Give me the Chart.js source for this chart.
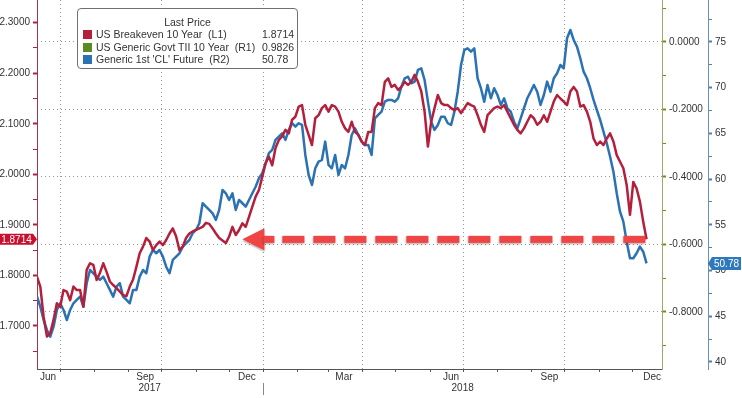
<!DOCTYPE html>
<html>
<head>
<meta charset="utf-8">
<script src="https://cdn.jsdelivr.net/npm/chart.js@4.4.0/dist/chart.umd.min.js"></script>
<style>
html,body{margin:0;padding:0;background:#fff;overflow:hidden}
#wrap{position:relative;width:742px;height:398px}
#c{position:absolute;left:0;top:0}
#legend{position:absolute;left:77px;top:8px;width:221px;height:61px;border:1px solid #707070;border-radius:4px;background:#fff;box-sizing:border-box;font-family:'Liberation Sans',Arial,sans-serif;font-size:10.5px;color:#333}
#legend .title{position:absolute;left:0;width:100%;top:7px;text-align:center;line-height:12px}
#legend .row{position:absolute;left:0;width:100%;height:12px;line-height:12px;white-space:pre}
#legend .sw{position:absolute;left:5px;top:2px;width:9px;height:9px}
#legend .nm{position:absolute;left:18px;top:0}
#legend .vl{position:absolute;left:184px;top:0}
</style>
</head>
<body>
<div id="wrap">
<canvas id="c" width="742" height="398"></canvas>
<div id="legend"></div>
</div>
<script>
// ---------- data ----------
const legendTitle = 'Last Price';
const seriesNames = ['US Breakeven 10 Year  (L1)', 'US Generic Govt TII 10 Year  (R1)', "Generic 1st 'CL' Future  (R2)"];
const lastValues = ['1.8714', '0.9826', '50.78'];
const seriesColors = ['#b41f3c', '#5b8c22', '#2b72b2'];

const startDate = '2017-06-10';
const stepDays = 3;

const breakeven = [
 1.797,1.778,1.718,1.679,1.686,1.712,1.745,1.738,1.771,1.768,
 1.751,1.778,1.771,1.771,1.738,1.811,1.824,1.821,1.791,1.805,
 1.824,1.807,1.788,1.781,1.775,1.768,1.761,1.759,1.778,1.792,
 1.817,1.844,1.857,1.874,1.867,1.850,1.860,1.867,1.860,1.870,
 1.883,1.893,1.877,1.850,1.857,1.874,1.883,1.887,1.890,1.893,
 1.896,1.904,1.902,1.893,1.883,1.874,1.869,1.864,1.877,1.896,
 1.880,1.890,1.903,1.896,1.916,1.936,1.956,1.969,1.995,2.022,
 2.035,2.018,2.052,2.068,2.075,2.088,2.081,2.108,2.114,2.134,
 2.137,2.098,2.078,2.058,2.111,2.117,2.131,2.137,2.124,2.137,
 2.134,2.124,2.104,2.091,2.084,2.104,2.084,2.078,2.065,2.058,
 2.084,2.084,2.131,2.141,2.137,2.183,2.190,2.173,2.177,2.167,
 2.173,2.183,2.177,2.183,2.197,2.183,2.164,2.124,2.055,2.104,
 2.131,2.157,2.141,2.137,2.137,2.131,2.127,2.131,2.121,2.131,
 2.141,2.137,2.134,2.117,2.098,2.084,2.117,2.124,2.131,2.134,
 2.131,2.137,2.124,2.111,2.098,2.088,2.081,2.091,2.104,2.117,
 2.111,2.098,2.104,2.117,2.104,2.124,2.144,2.157,2.150,2.144,
 2.137,2.164,2.173,2.164,2.134,2.137,2.124,2.104,2.071,2.058,
 2.065,2.058,2.071,2.081,2.065,2.038,2.025,2.012,1.979,1.920,
 1.985,1.972,1.946,1.906,1.8714
];

const crude = [
 47.14,46.05,44.59,43.50,42.77,43.86,45.69,46.42,45.69,44.59,
 45.69,46.42,46.78,47.14,46.05,48.61,50.06,49.70,49.33,48.97,
 49.33,48.61,47.88,47.14,48.24,48.61,47.14,46.78,46.42,47.88,
 47.88,49.33,50.06,49.70,51.52,52.25,51.89,52.25,51.52,50.42,
 49.70,51.16,51.52,51.89,52.61,52.98,53.34,54.08,54.44,55.17,
 57.36,56.99,56.63,56.26,55.53,56.63,58.81,58.45,57.72,58.45,
 56.63,57.72,57.36,56.99,57.72,58.45,59.17,60.09,60.64,61.73,
 62.83,63.19,64.28,64.64,65.01,64.28,65.38,66.11,65.74,66.11,
 65.92,62.64,60.45,59.36,61.18,61.91,62.09,64.10,61.55,61.18,
 62.64,60.45,61.55,61.18,62.64,64.83,65.56,64.83,64.10,63.73,
 63.73,62.64,66.65,67.02,67.38,68.47,68.66,68.66,68.47,68.84,
 70.11,71.03,71.20,70.48,70.66,71.94,72.12,70.84,68.47,66.28,
 65.38,65.92,66.83,66.83,66.11,65.92,67.38,69.56,72.48,74.13,
 74.31,73.94,74.31,71.03,69.94,68.47,70.30,68.84,69.94,69.20,
 68.11,68.84,67.75,67.38,66.28,65.56,66.65,67.75,68.84,69.56,
 70.30,69.56,68.11,69.20,70.66,69.56,71.03,71.58,72.48,72.12,
 75.40,76.31,75.22,74.49,73.22,71.75,71.03,69.94,68.66,67.56,
 66.47,65.19,63.92,62.45,60.81,58.45,56.44,55.35,53.16,51.34,
 51.34,51.89,52.61,52.06,50.78
];

// axes
const axisStart = '2017-06-10';
const axisEnd = '2018-12-28';
const monthLabels = ['Jun', 'Sep', 'Dec', 'Mar', 'Jun', 'Sep', 'Dec'];
const monthLabelDates = ['2017-06-20', '2017-09-16', '2017-12-17', '2018-03-15', '2018-06-20', '2018-09-17', '2018-12-19'];
const yearLabels = ['2017', '2018'];
const leftMajor = [1.7, 1.8, 1.9, 2.0, 2.1, 2.2, 2.3];
const leftMinor = [1.65, 1.75, 1.85, 1.95, 2.05, 2.15, 2.25];
const r1Major = [-0.8, -0.6, -0.4, -0.2, 0.0];
const r1Minor = [-0.9, -0.7, -0.5, -0.3, -0.1, 0.1];
const r2Major = [40, 45, 50, 55, 60, 65, 70, 75];
const r2Minor = [42.5, 47.5, 52.5, 57.5, 62.5, 67.5, 72.5, 77.5];
const leftRange = [1.6149, 2.3449];
const r1Range = [-0.9689, 0.1244];
const r2Range = [39.23, 79.59];
const arrowTipDate = '2017-12-13';

// ---------- helpers ----------
const day = s => Date.parse(s + 'T00:00:00Z') / 86400000;
const x0 = day(startDate);
const bePts = breakeven.map((v, i) => ({x: x0 + i * stepDays, y: v}));
const clPts = crude.map((v, i) => ({x: x0 + i * stepDays, y: v}));
const lastDay = x0 + (breakeven.length - 1) * stepDays;

// legend (HTML text)
(function(){
  const lg = document.getElementById('legend');
  let h = '<div class="title">' + legendTitle + '</div>';
  seriesNames.forEach((n, i) => {
    h += '<div class="row" style="top:' + (19 + i * 12.6) + 'px"><span class="sw" style="background:' + seriesColors[i] + '"></span><span class="nm">' + n + '</span><span class="vl">' + lastValues[i] + '</span></div>';
  });
  lg.innerHTML = h;
})();

// x ticks: month starts (tick marks), label ticks, year ticks
const xTicks = [];
{
  let d = new Date(Date.UTC(2017, 6, 1));
  const end = day(axisEnd);
  while (d.getTime() / 86400000 <= end) {
    xTicks.push({value: d.getTime() / 86400000, kind: d.getUTCMonth() % 3 === 0 ? 'q' : 'm', label: ''});
    d = new Date(Date.UTC(d.getUTCFullYear(), d.getUTCMonth() + 1, 1));
  }
  monthLabels.forEach((m, i) => xTicks.push({value: day(monthLabelDates[i]), kind: 'l', label: m}));
  const aS = day(axisStart), aE = day(axisEnd);
  yearLabels.forEach(y => {
    const s = Math.max(aS, day(y + '-01-01')), e = Math.min(aE, day(y + '-12-31'));
    xTicks.push({value: (s + e) / 2, kind: 'y', label: ['', y]});
  });
  xTicks.sort((a, b) => a.value - b.value);
}

const mkTicks = (maj, min) => maj.map(v => ({v, major: true})).concat(min.map(v => ({v, major: false}))).sort((a, b) => a.v - b.v);
const leftT = mkTicks(leftMajor, leftMinor);
const r1T = mkTicks(r1Major, r1Minor);
const r2T = mkTicks(r2Major, r2Minor);

const FONT = {family: "'Liberation Sans', Arial, sans-serif", size: 10, lineHeight: 1.1};
Chart.defaults.font.family = FONT.family;
Chart.defaults.font.size = 10;
Chart.defaults.color = '#333';

function yAxis(list, range, pos, weight, width, lineCol, tickCol, fmt, grid) {
  return {
    type: 'linear', position: pos, weight: weight, display: true, bounds: 'data',
    min: range[0], max: range[1],
    afterBuildTicks: s => { s.ticks = list.map(t => ({value: t.v})); },
    afterFit: s => { s.width = width; s.paddingTop = 0; s.paddingBottom = 0; },
    border: {display: true, color: lineCol, width: 1, dash: [1, 3]},
    grid: {
      drawOnChartArea: !!grid, drawTicks: true, tickLength: 4,
      color: c => (grid && list[c.index] && list[c.index].major) ? '#959595' : 'rgba(0,0,0,0)',
      tickColor: tickCol,
      tickWidth: c => (list[c.index] && list[c.index].major) ? 2 : 1,
      lineWidth: 1
    },
    ticks: {
      autoSkip: false, padding: 3, color: '#333', font: FONT,
      callback: (v, i) => list[i] && list[i].major ? fmt(list[i].v) : ''
    }
  };
}

const overlay = {
  id: 'overlay',
  afterDatasetsDraw(chart) {
    const ctx = chart.ctx, xs = chart.scales.x, yl = chart.scales.yL;
    const y = yl.getPixelForValue(breakeven[breakeven.length - 1]);
    const xTip = xs.getPixelForValue(day(arrowTipDate));
    const xEnd = xs.getPixelForValue(lastDay) + 2;
    ctx.save();
    ctx.fillStyle = '#ef4545';
    ctx.shadowColor = 'rgba(60,0,0,0.35)';
    ctx.shadowBlur = 2; ctx.shadowOffsetY = 1.5;
    ctx.beginPath();
    ctx.moveTo(xTip, y); ctx.lineTo(xTip + 22, y - 11); ctx.lineTo(xTip + 22, y + 11); ctx.closePath(); ctx.fill();
    ctx.fillRect(xTip + 21, y - 3.5, 11, 7);
    let xx = xTip + 40;
    while (xx < xEnd) { ctx.fillRect(xx, y - 3.5, Math.min(22, xEnd - xx), 7); xx += 31; }
    ctx.restore();
  },
  afterDraw(chart) {
    const ctx = chart.ctx, xs = chart.scales.x, yl = chart.scales.yL, y2 = chart.scales.yR2;
    ctx.save();
    // year separator
    const xs0 = Math.round(xs.getPixelForValue(day(yearLabels[1] + '-01-01'))) + 0.5;
    ctx.strokeStyle = '#888'; ctx.lineWidth = 1;
    ctx.beginPath(); ctx.moveTo(xs0, xs.top + 14); ctx.lineTo(xs0, xs.top + 26); ctx.stroke();
    ctx.font = "10px 'Liberation Sans', Arial, sans-serif";
    ctx.textBaseline = 'middle'; ctx.textAlign = 'center';
    // left badge
    let y = yl.getPixelForValue(breakeven[breakeven.length - 1]);
    ctx.fillStyle = '#c8102e';
    ctx.beginPath();
    ctx.moveTo(yl.left, y - 5.5); ctx.lineTo(yl.right - 4, y - 5.5); ctx.lineTo(yl.right, y);
    ctx.lineTo(yl.right - 4, y + 5.5); ctx.lineTo(yl.left, y + 5.5); ctx.closePath(); ctx.fill();
    ctx.fillStyle = '#fff';
    ctx.fillText(lastValues[0], (yl.left + yl.right - 4) / 2, y + 0.5);
    // right badge
    y = y2.getPixelForValue(crude[crude.length - 1]);
    ctx.fillStyle = '#2f78bb';
    ctx.beginPath();
    ctx.moveTo(y2.left, y); ctx.lineTo(y2.left + 4, y - 6.5); ctx.lineTo(y2.right - 1, y - 6.5);
    ctx.lineTo(y2.right - 1, y + 6.5); ctx.lineTo(y2.left + 4, y + 6.5); ctx.closePath(); ctx.fill();
    ctx.fillStyle = '#fff';
    ctx.fillText(lastValues[2], (y2.left + 4 + y2.right - 1) / 2, y + 0.5);
    ctx.restore();
  }
};

new Chart(document.getElementById('c'), {
  type: 'line',
  data: {
    datasets: [
      {label: seriesNames[0], data: bePts, xAxisID: 'x', yAxisID: 'yL', borderColor: seriesColors[0], borderWidth: 2.5, pointRadius: 0, tension: 0, order: 0, borderJoinStyle: 'round'},
      {label: seriesNames[2], data: clPts, xAxisID: 'x', yAxisID: 'yR2', borderColor: seriesColors[2], borderWidth: 2.5, pointRadius: 0, tension: 0, order: 1, borderJoinStyle: 'round'}
    ]
  },
  options: {
    responsive: false, animation: false, devicePixelRatio: 1,
    layout: {padding: 0},
    plugins: {legend: {display: false}, tooltip: {enabled: false}},
    scales: {
      x: {
        type: 'linear', position: 'bottom', bounds: 'data',
        min: day(axisStart), max: day(axisEnd),
        afterBuildTicks: s => { s.ticks = xTicks.map(t => ({value: t.value})); },
        afterFit: s => { s.height = 29; s.paddingLeft = 0; s.paddingRight = 0; },
        border: {display: true, color: '#555', width: 1, dash: [1, 3]},
        grid: {
          drawOnChartArea: true, drawTicks: true, tickLength: 3, lineWidth: 1,
          color: c => (xTicks[c.index] && xTicks[c.index].kind === 'q') ? '#959595' : 'rgba(0,0,0,0)',
          tickColor: c => (xTicks[c.index] && (xTicks[c.index].kind === 'q' || xTicks[c.index].kind === 'm')) ? '#555' : 'rgba(0,0,0,0)'
        },
        ticks: {
          autoSkip: false, maxRotation: 0, minRotation: 0, padding: 0, color: '#333', font: FONT,
          callback: (v, i) => xTicks[i] ? xTicks[i].label : ''
        }
      },
      yL: yAxis(leftT, leftRange, 'left', 0, 37, '#a3354a', '#b0203c', v => v.toFixed(4), false),
      yR1: yAxis(r1T, r1Range, 'right', 1, 46, '#a4a866', '#6e8b1e', v => v.toFixed(4), true),
      yR2: yAxis(r2T, r2Range, 'right', 2, 34, '#6d8fb4', '#4f7faa', v => String(v), false)
    }
  },
  plugins: [overlay]
});
</script>
</body>
</html>
